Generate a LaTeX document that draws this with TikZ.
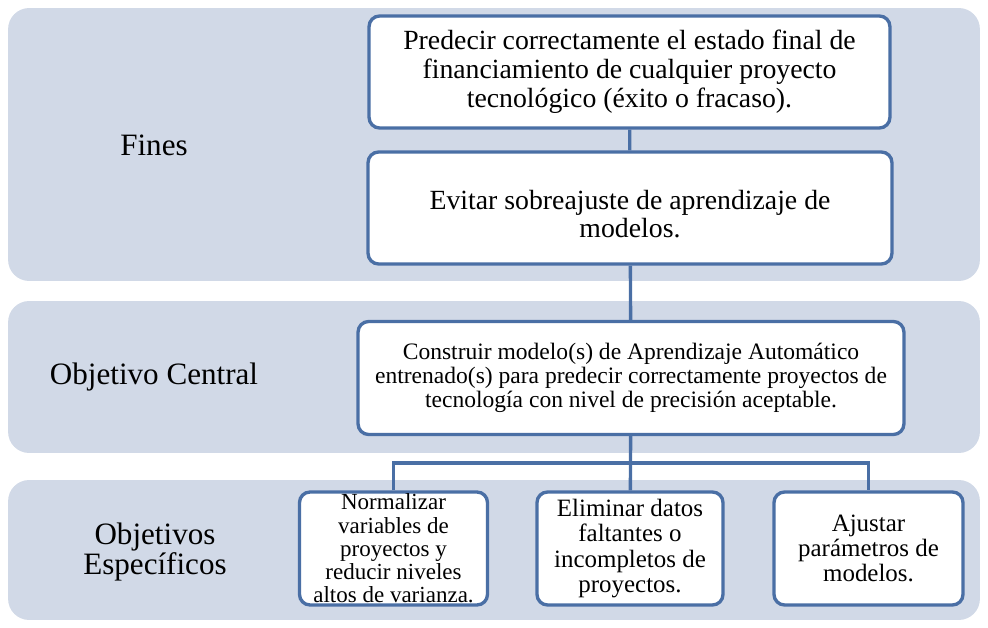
\documentclass[tikz,border=0pt]{standalone}
\usepackage{fontspec}
\setmainfont{Liberation Serif}
\usepackage{tikz}
\usetikzlibrary{positioning, calc}
\definecolor{bordeAzul}{HTML}{4A6FA5}
\definecolor{fondoFranja}{HTML}{D1D9E7}

\begin{document}
\begin{tikzpicture}[x=0.02cm, y=-0.02cm,
        franja/.style={fill=fondoFranja, draw=none, rounded corners=12pt,
            minimum width=19.44cm, inner sep=0pt},
        caja/.style={draw=bordeAzul, fill=white, line width=1.9pt, rounded corners=6pt,
            align=center, inner sep=0pt},
        etiq/.style={align=center, font=\fontsize{17.7}{17.2}\selectfont},
        lnk/.style={draw=bordeAzul, line width=1.9pt}
    ]
        \useasboundingbox (0,0) rectangle (988,628);
        \node[franja, minimum height=5.46cm] (fFines) at (494,144.5) {};
        \node[franja, minimum height=3.04cm] (fCentral) at (494,377) {};
        \node[franja, minimum height=2.8cm] (fEspec) at (494,550) {};

        \node[etiq] (lFines) at (154,145) {Fines};
        \node[etiq] (lCentral) at (154,377) {Objetivo Central};
        \node[etiq] (lEspec) at (155,552) {Objetivos\\Específicos};

        \node[caja, minimum width=10.42cm, minimum height=2.24cm,
            font=\fontsize{15.8}{16.4}\selectfont] (pred) at (629.5,72)
            {Predecir correctamente el estado final de\\financiamiento de cualquier proyecto\\tecnológico (éxito o fracaso).};
        \node[caja, minimum width=10.48cm, minimum height=2.24cm] (evit) at (630,208) {};
        \node[align=center, font=\fontsize{15.8}{16.4}\selectfont] (tEvit) at (630,214)
            {Evitar sobreajuste de aprendizaje de\\modelos.};
        \node[caja, minimum width=10.92cm, minimum height=2.26cm,
            font=\fontsize{13.4}{13.7}\selectfont] (cen) at (631,378)
            {Construir modelo(s) de Aprendizaje Automático\\entrenado(s) para predecir correctamente proyectos de\\tecnología con nivel de precisión aceptable.};

        \node[caja, minimum width=3.76cm, minimum height=2.26cm,
            font=\fontsize{13.1}{13.2}\selectfont] (norm) at (393.5,548.5)
            {Normalizar\\variables de\\proyectos y\\reducir niveles\\altos de varianza.};
        \node[caja, minimum width=3.72cm, minimum height=2.26cm,
            font=\fontsize{14.2}{14.4}\selectfont] (elim) at (630,548.5)
            {Eliminar datos\\faltantes o\\incompletos de\\proyectos.};
        \node[caja, minimum width=3.78cm, minimum height=2.26cm,
            font=\fontsize{14.2}{14.4}\selectfont] (ajus) at (868.5,548.5)
            {Ajustar\\parámetros de\\modelos.};

        \coordinate (rama) at (630,463);
        \draw[lnk] (pred) -- (evit);
        \draw[lnk] (evit) -- (cen);
        \draw[lnk] (cen) -- (elim);
        \draw[lnk] (norm.north) |- (rama) -| (ajus.north);
    \end{tikzpicture}
\end{document}
